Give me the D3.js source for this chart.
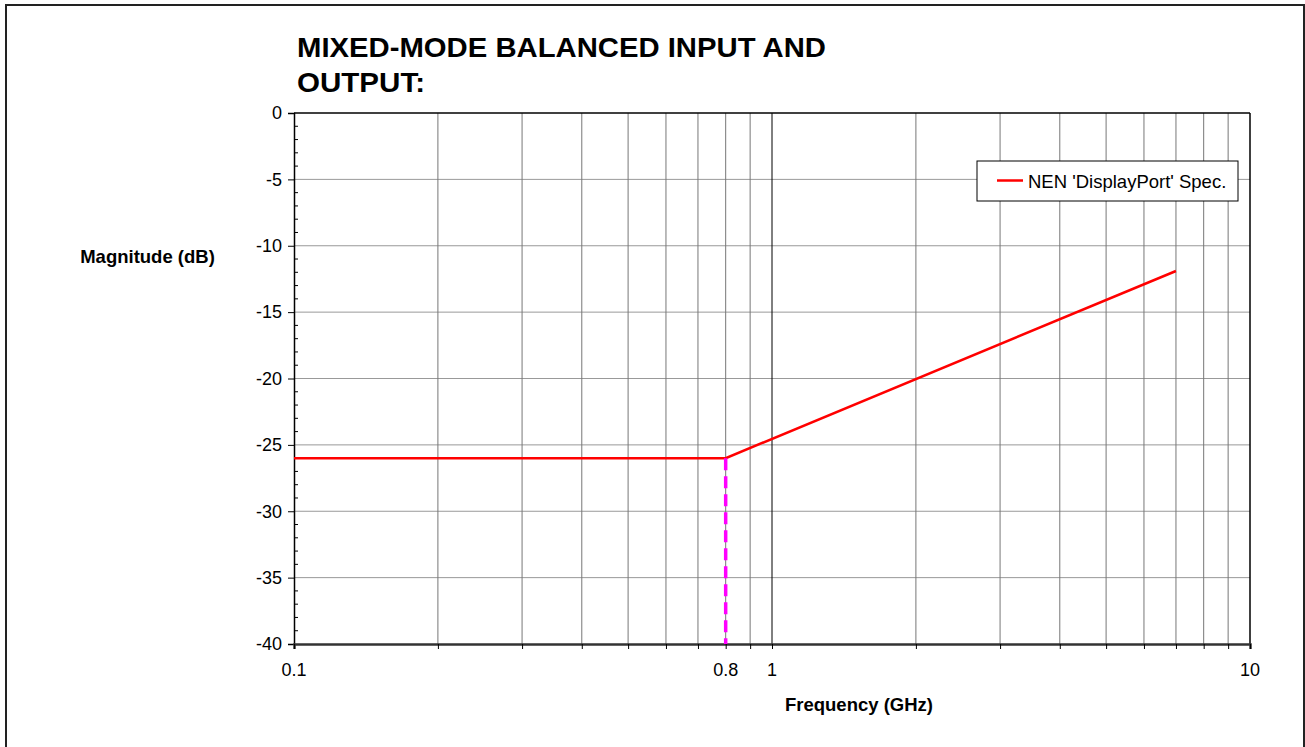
<!DOCTYPE html>
<html>
<head>
<meta charset="utf-8">
<script src="https://cdn.jsdelivr.net/npm/d3@7"></script>
<style>
  html, body { margin: 0; padding: 0; background: #fff; }
  svg { display: block; font-family: Arial, "Liberation Sans", sans-serif; }
</style>
</head>
<body>
<svg id="chart" width="1305" height="747"></svg>
<script>
// Spec line: frequency (GHz) and magnitude (dB)
const specFreq = [0.1, 0.8, 7];
const specMag = [-26, -26, -11.9];
// Marker at the spec corner frequency
const markerFreq = 0.8;
const markerMag = [-26, -40];
// Axis ticks
const xMajorTicks = [0.1, 1, 10];
const xMinorTicks = [0.2, 0.3, 0.4, 0.5, 0.6, 0.7, 0.8, 0.9, 2, 3, 4, 5, 6, 7, 8, 9];
const xTickLabels = [0.1, 0.8, 1, 10];
const yTicks = [0, -5, -10, -15, -20, -25, -30, -35, -40];
const yMinorTicks = d3.range(0, -41, -1);
const titleLines = ["MIXED-MODE BALANCED INPUT AND", "OUTPUT:"];
const legendLabel = "NEN 'DisplayPort' Spec.";

const FONT = "Arial, 'Liberation Sans', sans-serif";
const svg = d3.select("#chart");
const plotLeft = 294, plotRight = 1250, plotTop = 113, plotBottom = 644;

const x = d3.scaleLog().domain([0.1, 10]).range([plotLeft, plotRight]);
const y = d3.scaleLinear().domain([-40, 0]).range([plotBottom, plotTop]);

// Outer frame
svg.append("rect").attr("x", 6).attr("y", 5).attr("width", 1298).attr("height", 745)
  .attr("fill", "none").attr("stroke", "#222").attr("stroke-width", 2);

// Horizontal gridlines
svg.append("g").selectAll("line").data(yTicks.filter(d => d !== -40 && d !== 0)).join("line")
  .attr("x1", plotLeft).attr("x2", plotRight).attr("y1", d => y(d)).attr("y2", d => y(d))
  .attr("stroke", "#999").attr("stroke-width", 1);

// Vertical gridlines
svg.append("g").selectAll("line").data(xMinorTicks).join("line")
  .attr("x1", d => x(d)).attr("x2", d => x(d)).attr("y1", plotTop).attr("y2", plotBottom)
  .attr("stroke", "#777").attr("stroke-width", 1);
svg.append("g").selectAll("line").data(xMajorTicks.slice(1)).join("line")
  .attr("x1", d => x(d)).attr("x2", d => x(d)).attr("y1", plotTop).attr("y2", plotBottom)
  .attr("stroke", "#000").attr("stroke-width", d => d === 10 ? 1.5 : 1);

// Top line at 0 dB
svg.append("line").attr("x1", plotLeft).attr("x2", plotRight).attr("y1", y(0)).attr("y2", y(0))
  .attr("stroke", "#000").attr("stroke-width", 1.5);

// Y axis (plain hyphen for negative labels)
const yAxis = svg.append("g").attr("transform", `translate(${plotLeft},0)`)
  .call(d3.axisLeft(y).tickValues(yTicks).tickSize(6).tickPadding(6).tickFormat(d => String(d)));
yAxis.select(".domain").attr("stroke", "#000").attr("stroke-width", 1.5);
yAxis.selectAll(".tick line").attr("stroke", "#000");
yAxis.selectAll(".tick text").attr("font-size", 18).attr("fill", "#000")
  .attr("font-family", FONT);
svg.append("g").selectAll("line").data(yMinorTicks.filter(d => d % 5 !== 0)).join("line")
  .attr("x1", plotLeft).attr("x2", plotLeft + 4).attr("y1", d => y(d)).attr("y2", d => y(d))
  .attr("stroke", "#000").attr("stroke-width", 1);

// X axis
const xAxis = svg.append("g").attr("transform", `translate(0,${plotBottom})`)
  .call(d3.axisBottom(x).tickValues(xMajorTicks.concat(xMinorTicks)).tickSize(5).tickFormat(""));
xAxis.select(".domain").attr("stroke", "#333").attr("stroke-width", 2.5);
xAxis.selectAll(".tick line").attr("stroke", "#000");
svg.append("g").selectAll("text").data(xTickLabels).join("text")
  .attr("x", d => x(d)).attr("y", 676).attr("text-anchor", "middle")
  .attr("font-size", 18).attr("fill", "#000").text(d => d);

// Spec line
const line = d3.line().x((d, i) => x(specFreq[i])).y(d => y(d));
svg.append("path").datum(specMag).attr("d", line)
  .attr("fill", "none").attr("stroke", "#ff0000").attr("stroke-width", 2.5);

// Corner frequency marker
svg.append("line").attr("x1", x(markerFreq)).attr("x2", x(markerFreq))
  .attr("y1", y(markerMag[0])).attr("y2", y(markerMag[1]))
  .attr("stroke", "#ff00ff").attr("stroke-width", 3.5).attr("stroke-dasharray", "12,6");

// Legend
const lg = svg.append("g");
lg.append("rect").attr("x", 977).attr("y", 161).attr("width", 261).attr("height", 40)
  .attr("fill", "#fff").attr("stroke", "#000").attr("stroke-width", 1);
lg.append("line").attr("x1", 997).attr("x2", 1023).attr("y1", 180.5).attr("y2", 180.5)
  .attr("stroke", "#ff0000").attr("stroke-width", 2.5);
lg.append("text").attr("x", 1028).attr("y", 188).attr("font-size", 18.5).attr("fill", "#000")
  .text(legendLabel);

// Title
const titleWidths = [529, 128];
svg.append("g").selectAll("text").data(titleLines).join("text")
  .attr("x", 297).attr("y", (d, i) => 57 + i * 35)
  .attr("font-size", 28).attr("font-weight", "bold").attr("fill", "#000")
  .attr("textLength", (d, i) => titleWidths[i]).attr("lengthAdjust", "spacingAndGlyphs")
  .text(d => d);

// Axis titles
svg.append("text").attr("x", 859).attr("y", 711).attr("text-anchor", "middle")
  .attr("font-size", 18.5).attr("font-weight", "bold").text("Frequency (GHz)");
svg.append("text").attr("x", 147.5).attr("y", 263).attr("text-anchor", "middle")
  .attr("font-size", 18.5).attr("font-weight", "bold").text("Magnitude (dB)");
</script>
</body>
</html>
